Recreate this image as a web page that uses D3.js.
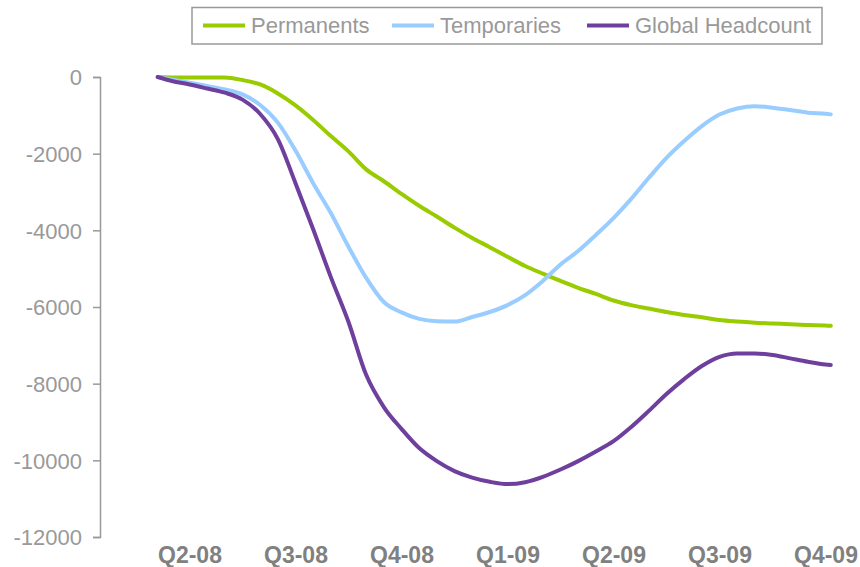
<!DOCTYPE html>
<html>
<head>
<meta charset="utf-8">
<script src="https://cdn.jsdelivr.net/npm/d3@7"></script>
<style>
  html, body { margin: 0; padding: 0; background: #fff; }
  svg { display: block; font-family: "Liberation Sans", Arial, sans-serif; }
</style>
</head>
<body>
<svg id="chart" width="860" height="567"></svg>
<script>
// ---- data ----
const quarterLabels = ["Q2-08", "Q3-08", "Q4-08", "Q1-09", "Q2-09", "Q3-09", "Q4-09"];
const quarterMonths = [1, 4, 7, 10, 13, 16, 19];
const months = [0.1, 0.5, 1, 1.5, 2, 2.5, 3, 3.5, 4, 4.5, 5, 5.5, 6, 6.5, 7, 7.5, 8, 8.5, 9, 9.5,
  10, 10.5, 11, 11.5, 12, 12.5, 13, 13.5, 14, 14.5, 15, 15.5, 16, 16.5, 17, 17.5, 18, 18.5, 19, 19.15];
const permanents = [0, -10, -15, -15, -15, -80, -195, -428, -740, -1120, -1540, -1940, -2410, -2720,
  -3050, -3360, -3640, -3930, -4200, -4440, -4690, -4930, -5130, -5320, -5500, -5660, -5830, -5950,
  -6040, -6130, -6210, -6270, -6340, -6380, -6410, -6430, -6450, -6470, -6480, -6490];
const temporaries = [0, -65, -150, -235, -325, -455, -730, -1190, -1920, -2770, -3550, -4430, -5240,
  -5870, -6140, -6310, -6370, -6380, -6260, -6130, -5950, -5690, -5320, -4890, -4540, -4120, -3680,
  -3180, -2630, -2110, -1670, -1280, -980, -820, -760, -800, -860, -930, -960, -975];
const globalHeadcount = [0, -105, -195, -300, -410, -590, -965, -1620, -2770, -3970, -5220, -6390,
  -7770, -8610, -9180, -9680, -10020, -10280, -10450, -10560, -10620, -10570, -10430, -10240, -10020,
  -9770, -9500, -9130, -8710, -8270, -7880, -7540, -7300, -7210, -7210, -7250, -7340, -7430, -7500, -7510];
const yTicks = [0, -2000, -4000, -6000, -8000, -10000, -12000];
const seriesNames = ["Permanents", "Temporaries", "Global Headcount"];
const seriesColors = ["#99cc00", "#99ccff", "#6e3f9c"];

// ---- layout ----
const svg = d3.select("#chart");
const x = d3.scaleLinear().domain([1, 19]).range([189.5, 825.5]);
const y = d3.scaleLinear().domain([0, -12000]).range([77, 537]);

// y axis
const yAxis = d3.axisLeft(y).tickValues(yTicks).tickSize(7).tickPadding(11).tickFormat(d => String(d));
const gy = svg.append("g").attr("transform", "translate(100,0)").call(yAxis);
gy.select(".domain").attr("stroke", "#999").attr("stroke-width", 1.5);
gy.selectAll(".tick line").attr("stroke", "#999").attr("stroke-width", 1.5);
gy.selectAll(".tick text").attr("fill", "#999").style("font-size", "22px")
  .style("font-family", "'Liberation Sans', Arial, sans-serif").attr("dy", "0.35em");

// x labels
const xAxis = d3.axisBottom(x).tickValues(quarterMonths).tickSize(0).tickPadding(0)
  .tickFormat((d, i) => quarterLabels[i]);
const gx = svg.append("g").attr("transform", "translate(0,545)").call(xAxis);
gx.select(".domain").remove();
gx.selectAll(".tick text").attr("fill", "#808080").style("font-size", "23px")
  .style("font-weight", "bold").style("font-family", "'Liberation Sans', Arial, sans-serif")
  .attr("dy", "18");

// lines
const allSeries = [permanents, temporaries, globalHeadcount];
const line = d3.line().x((d, i) => x(months[i])).y(d => y(d)).curve(d3.curveMonotoneX);
allSeries.forEach((vals, si) => {
  svg.append("path").datum(vals)
    .attr("d", line)
    .attr("fill", "none")
    .attr("stroke", seriesColors[si])
    .attr("stroke-width", 4)
    .attr("stroke-linejoin", "round")
    .attr("stroke-linecap", "round");
});

// legend
const legend = svg.append("g");
legend.append("rect").attr("x", 192).attr("y", 7.5).attr("width", 630).attr("height", 36.5)
  .attr("fill", "#fff").attr("stroke", "#999").attr("stroke-width", 1.5);
const legendX = [203, 392, 587];
seriesNames.forEach((name, i) => {
  legend.append("line").attr("x1", legendX[i]).attr("x2", legendX[i] + 42)
    .attr("y1", 25.5).attr("y2", 25.5)
    .attr("stroke", seriesColors[i]).attr("stroke-width", 4);
  legend.append("text").attr("x", legendX[i] + 48).attr("y", 33.3)
    .attr("fill", "#999").style("font-size", "22px").text(name);
});
</script>
</body>
</html>
